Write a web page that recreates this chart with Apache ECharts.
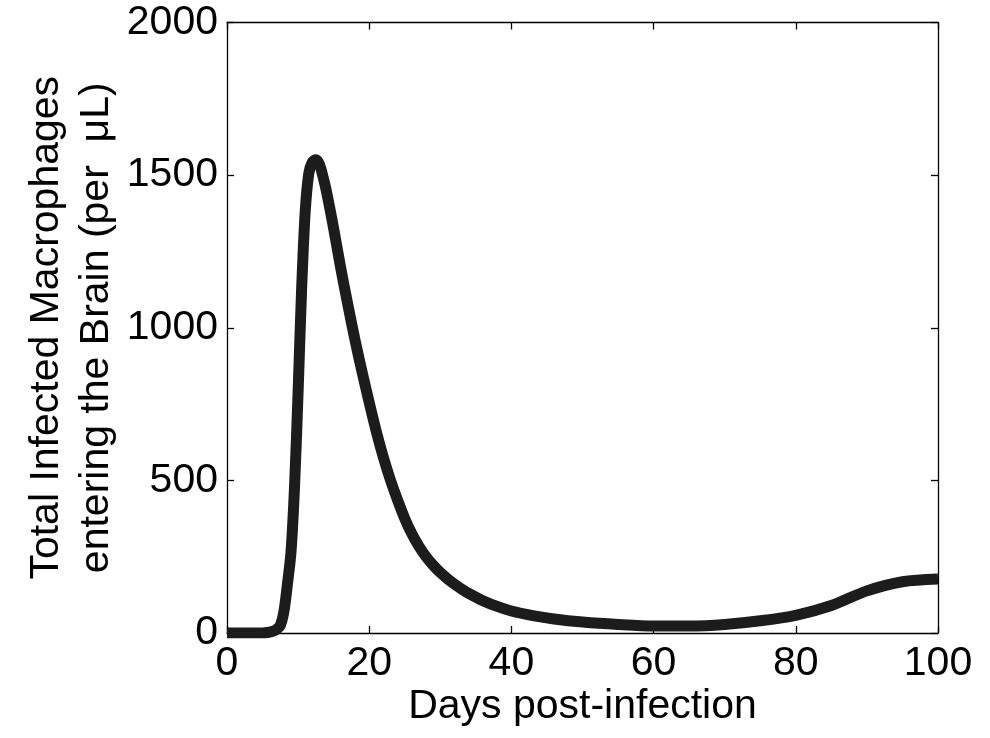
<!DOCTYPE html>
<html>
<head>
<meta charset="utf-8">
<script src="https://cdn.jsdelivr.net/npm/echarts@6/dist/echarts.min.js"></script>
<style>
html,body{margin:0;padding:0;background:#fff;}
#chart{width:990px;height:738px;}
</style>
</head>
<body>
<div id="chart"></div>
<script>
const days = [0, 2, 4, 5, 6, 6.5, 7, 7.5, 8, 8.5, 9, 9.5, 10, 10.5, 11, 11.5, 12, 12.5, 13, 13.5, 14, 15, 16, 17, 18, 19, 20, 21, 22, 23, 24, 25, 26, 27, 28, 29, 30, 31, 32, 33, 34, 36, 38, 40, 43, 46, 50, 55, 60, 65, 70, 75, 80, 85, 90, 95, 100];
const macrophages = [0, 0, 0, 0, 3, 6, 12, 25, 70, 160, 265, 480, 790, 1130, 1380, 1505, 1543, 1550, 1535, 1495, 1445, 1325, 1195, 1075, 960, 855, 755, 660, 575, 500, 435, 375, 325, 284, 250, 222, 198, 178, 160, 144, 130, 106, 87, 72, 57, 46, 36, 28, 23, 23, 28, 40, 58, 90, 138, 168, 177];
const xTicks = [0, 20, 40, 60, 80, 100];
const yTicks = [0, 500, 1000, 1500, 2000];
const xTitle = 'Days post-infection';
const yTitle = 'Total Infected Macrophages\nentering the Brain (per  \u03bcL)';

const FONT = '"Liberation Sans", Arial, sans-serif';
const FS = 41;
const chart = echarts.init(document.getElementById('chart'), null, {renderer: 'canvas'});

const xBase = {
  type: 'value', min: xTicks[0], max: xTicks[xTicks.length - 1], interval: xTicks[1] - xTicks[0],
  splitLine: {show: false},
  axisLine: {show: true, onZero: false, lineStyle: {color: '#000', width: 1.3}},
  axisTick: {show: true, inside: true, length: 7, lineStyle: {color: '#000', width: 1.3}}
};
const yBase = {
  type: 'value', min: yTicks[0], max: yTicks[yTicks.length - 1], interval: yTicks[1] - yTicks[0],
  splitLine: {show: false},
  axisLine: {show: true, onZero: false, lineStyle: {color: '#000', width: 1.3}},
  axisTick: {show: true, inside: true, length: 7, lineStyle: {color: '#000', width: 1.3}}
};

chart.setOption({
  backgroundColor: '#fff',
  animation: false,
  grid: {left: 227, right: 52, top: 22.5, bottom: 105, containLabel: false, outerBoundsMode: 'none'},
  xAxis: [
    Object.assign({}, xBase, {
      position: 'bottom',
      name: xTitle, nameLocation: 'middle', nameGap: 53, nameMoveOverlap: false,
      nameTextStyle: {fontFamily: FONT, fontSize: FS, color: '#000'},
      axisLabel: {show: true, margin: 10, fontFamily: FONT, fontSize: FS, color: '#000', formatter: v => String(v)}
    }),
    Object.assign({}, xBase, {position: 'top', axisLabel: {show: false}})
  ],
  yAxis: [
    Object.assign({}, yBase, {
      position: 'left',
      name: yTitle, nameLocation: 'middle', nameGap: 105, nameRotate: 90, nameMoveOverlap: false,
      nameTextStyle: {fontFamily: FONT, fontSize: FS, color: '#000', lineHeight: 50, align: 'center'},
      axisLabel: {show: true, margin: 9, fontFamily: FONT, fontSize: FS, color: '#000', formatter: v => String(v)}
    }),
    Object.assign({}, yBase, {position: 'right', axisLabel: {show: false}})
  ],
  series: [{
    type: 'line',
    xAxisIndex: 0, yAxisIndex: 0,
    data: days.map((d, i) => [d, macrophages[i]]),
    smooth: 0.3,
    showSymbol: false,
    clip: true,
    lineStyle: {color: '#1c1c1c', width: 11, join: 'round', cap: 'butt'}
  }]
});
</script>
</body>
</html>
